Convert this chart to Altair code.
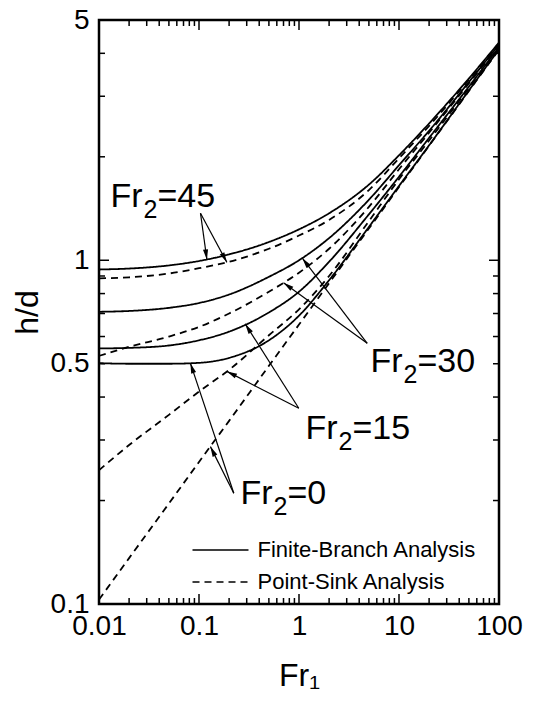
import math
import altair as alt
import pandas as pd

FONT = "Liberation Sans"
W, H = 400, 584

# ---- data ----
fr1 = [0.01, 0.02, 0.05, 0.1, 0.2, 0.5, 1, 2, 5, 10, 20, 50, 100]

finite_45 = [0.94, 0.946, 0.966, 0.995, 1.04, 1.13, 1.23, 1.37, 1.66, 2.02, 2.50, 3.38, 4.30]
point_45 = [0.886, 0.892, 0.915, 0.948, 0.99, 1.08, 1.18, 1.31, 1.60, 1.98, 2.46, 3.35, 4.27]
finite_30 = [0.708, 0.712, 0.727, 0.751, 0.795, 0.895, 1.0, 1.16, 1.50, 1.89, 2.38, 3.30, 4.24]
point_30 = [0.527, 0.56, 0.6, 0.64, 0.7, 0.81, 0.92, 1.08, 1.43, 1.84, 2.35, 3.27, 4.21]
finite_15 = [0.554, 0.556, 0.565, 0.585, 0.62, 0.705, 0.81, 0.99, 1.36, 1.75, 2.27, 3.20, 4.17]
point_15 = [0.245, 0.29, 0.355, 0.415, 0.48, 0.605, 0.72, 0.90, 1.30, 1.72, 2.23, 3.17, 4.15]
finite_0 = [0.502, 0.5, 0.5, 0.503, 0.52, 0.585, 0.69, 0.875, 1.25, 1.645, 2.16, 3.12, 4.11]
point_0 = [0.103, 0.136, 0.196, 0.259, 0.341, 0.493, 0.65, 0.858, 1.237, 1.633, 2.154, 3.108, 4.1]

FB = "Finite-Branch Analysis"
PS = "Point-Sink Analysis"

series = [
    ("45 fb", FB, finite_45), ("45 ps", PS, point_45),
    ("30 fb", FB, finite_30), ("30 ps", PS, point_30),
    ("15 fb", FB, finite_15), ("15 ps", PS, point_15),
    ("0 fb", FB, finite_0), ("0 ps", PS, point_0),
]

# annotation labels (data coordinates of the left baseline point)
label_x = [0.013, 5.19, 1.16, 0.26]
label_y = [1.43, 0.474, 0.303, 0.196]
label_tail = ["=45", "=30", "=15", "=0"]

# arrows: tail -> head (data coordinates)
arrow_x0 = [0.1035, 0.1035, 4.81, 4.81, 0.995, 0.995, 0.2228, 0.2228]
arrow_y0 = [1.37, 1.37, 0.5734, 0.5734, 0.371, 0.371, 0.21, 0.21]
arrow_x1 = [0.12, 0.19, 0.70, 1.08, 0.29, 0.19, 0.082, 0.13]
arrow_y1 = [1.004, 0.986, 0.86, 1.014, 0.653, 0.475, 0.502, 0.287]

# legend (data coordinates inside the plot)
legend_text = [FB, PS]
legend_kind = [FB, PS]
legend_x0 = [0.0861, 0.0861]
legend_x1 = [0.3126, 0.3126]
legend_tx = [0.3846, 0.3846]
legend_y = [0.1436, 0.1159]

x_major_ticks = [0.1, 1, 10]
x_minor_ticks = [k * 10.0 ** e for e in (-2, -1, 0, 1) for k in range(2, 10)]
y_major_ticks = [1]
y_minor_ticks = [0.2, 0.3, 0.4, 0.5, 0.6, 0.7, 0.8, 0.9, 2, 3, 4]

# ---- tables ----
rows = []
for name, kind, vals in series:
    for xv, yv in zip(fr1, vals):
        rows.append({"Fr1": xv, "hd": yv, "series": name, "analysis": kind})
curves = pd.DataFrame(rows)


def px(v):
    return (math.log10(v) + 2) / 4 * W


def py(v):
    return H - (math.log10(v) + 1) / math.log10(50) * H


angles = []
for a, b, c, d in zip(arrow_x0, arrow_y0, arrow_x1, arrow_y1):
    dx = px(c) - px(a)
    dy = py(d) - py(b)
    angles.append(math.degrees(math.atan2(dx, -dy)) % 360)

arrows = pd.DataFrame({"x0": arrow_x0, "y0": arrow_y0, "x1": arrow_x1,
                       "y1": arrow_y1, "ang": angles})
labels = pd.DataFrame({"x": label_x, "y": label_y, "tail": label_tail})
legend_df = pd.DataFrame({"x0": legend_x0, "x1": legend_x1, "tx": legend_tx,
                          "y": legend_y, "text": legend_text,
                          "analysis": legend_kind})

xs = alt.Scale(type="log", domain=[0.01, 100], nice=False)
ys = alt.Scale(type="log", domain=[0.1, 5], nice=False)

xaxis = alt.Axis(values=[0.01, 0.1, 1, 10, 100], format="~g", labelFont=FONT,
                 labelFontSize=28, labelColor="black", tickSize=0, domain=False,
                 grid=False, labelPadding=8, labelOverlap=False, labelFlush=False,
                 title="Fr\u2081", titleFont=FONT, titleFontSize=32,
                 titleFontWeight="normal", titleColor="black", titlePadding=20)
yaxis = alt.Axis(values=[0.1, 0.5, 1, 5], format="~g", labelFont=FONT,
                 labelFontSize=28, labelColor="black", tickSize=0, domain=False,
                 grid=False, labelPadding=10, labelOverlap=False, labelFlush=False,
                 title="h/d", titleFont=FONT, titleFontSize=32,
                 titleFontWeight="normal", titleColor="black", titlePadding=6)

dash_scale = alt.Scale(domain=[FB, PS], range=[[1, 0], [7, 5]])


def X(f):
    return alt.X(f, type="quantitative", scale=xs, axis=xaxis)


def Y(f):
    return alt.Y(f, type="quantitative", scale=ys, axis=yaxis)


lines = alt.Chart(curves).mark_line(color="black", strokeWidth=1.8,
                                    interpolate="monotone").encode(
    x=X("Fr1"), y=Y("hd"), detail="series:N",
    strokeDash=alt.StrokeDash("analysis:N", scale=dash_scale, legend=None),
)


def xrule(vals, y0, y1):
    return alt.Chart(pd.DataFrame({"v": vals})).mark_rule(
        color="black", strokeWidth=1.5).encode(
        x=X("v"), y=alt.value(y0), y2=alt.value(y1))


def yrule(vals, x0, x1):
    return alt.Chart(pd.DataFrame({"v": vals})).mark_rule(
        color="black", strokeWidth=1.5).encode(
        y=Y("v"), x=alt.value(x0), x2=alt.value(x1))


ticks = [
    xrule(x_major_ticks, H, H - 10), xrule(x_minor_ticks, H, H - 6),
    xrule(x_major_ticks, 0, 10), xrule(x_minor_ticks, 0, 6),
    yrule(y_major_ticks, 0, 10), yrule(y_minor_ticks, 0, 6),
    yrule(y_major_ticks, W, W - 10), yrule(y_minor_ticks, W, W - 6),
]

arrow_lines = alt.Chart(arrows).mark_rule(color="black", strokeWidth=1.2).encode(
    x=X("x0"), y=Y("y0"), x2="x1", y2="y1")
arrow_heads = alt.Chart(arrows).mark_point(
    shape="M0,0L-0.25,1L0.25,1Z", filled=True, size=420, color="black",
    opacity=1, strokeWidth=0).encode(
    x=X("x1"), y=Y("y1"), angle=alt.Angle("ang:Q", scale=None))

t_fr = alt.Chart(labels).mark_text(align="left", baseline="alphabetic",
                                   font=FONT, fontSize=34, color="black").encode(
    x=X("x"), y=Y("y"), text=alt.value("Fr"))
t_sub = alt.Chart(labels).mark_text(align="left", baseline="alphabetic",
                                    font=FONT, fontSize=25, color="black",
                                    dx=33, dy=11).encode(
    x=X("x"), y=Y("y"), text=alt.value("2"))
t_tail = alt.Chart(labels).mark_text(align="left", baseline="alphabetic",
                                     font=FONT, fontSize=34, color="black",
                                     dx=47).encode(
    x=X("x"), y=Y("y"), text="tail:N")

leg_lines = alt.Chart(legend_df).mark_rule(color="black", strokeWidth=1.5).encode(
    x=X("x0"), x2="x1", y=Y("y"),
    strokeDash=alt.StrokeDash("analysis:N", scale=dash_scale, legend=None))
leg_text = alt.Chart(legend_df).mark_text(align="left", baseline="middle",
                                          font=FONT, fontSize=22,
                                          color="black").encode(
    x=X("tx"), y=Y("y"), text="text:N")

chart = alt.layer(lines, *ticks, arrow_lines, arrow_heads, t_fr, t_sub, t_tail,
                  leg_lines, leg_text).properties(
    width=W, height=H,
    autosize=alt.AutoSizeParams(type="none"),
    padding={"left": 99, "top": 20, "right": 43, "bottom": 99},
    background="white",
).configure_view(stroke="black", strokeWidth=2.5)

chart.save("out.html", embed_options={"renderer": "svg", "actions": False})
